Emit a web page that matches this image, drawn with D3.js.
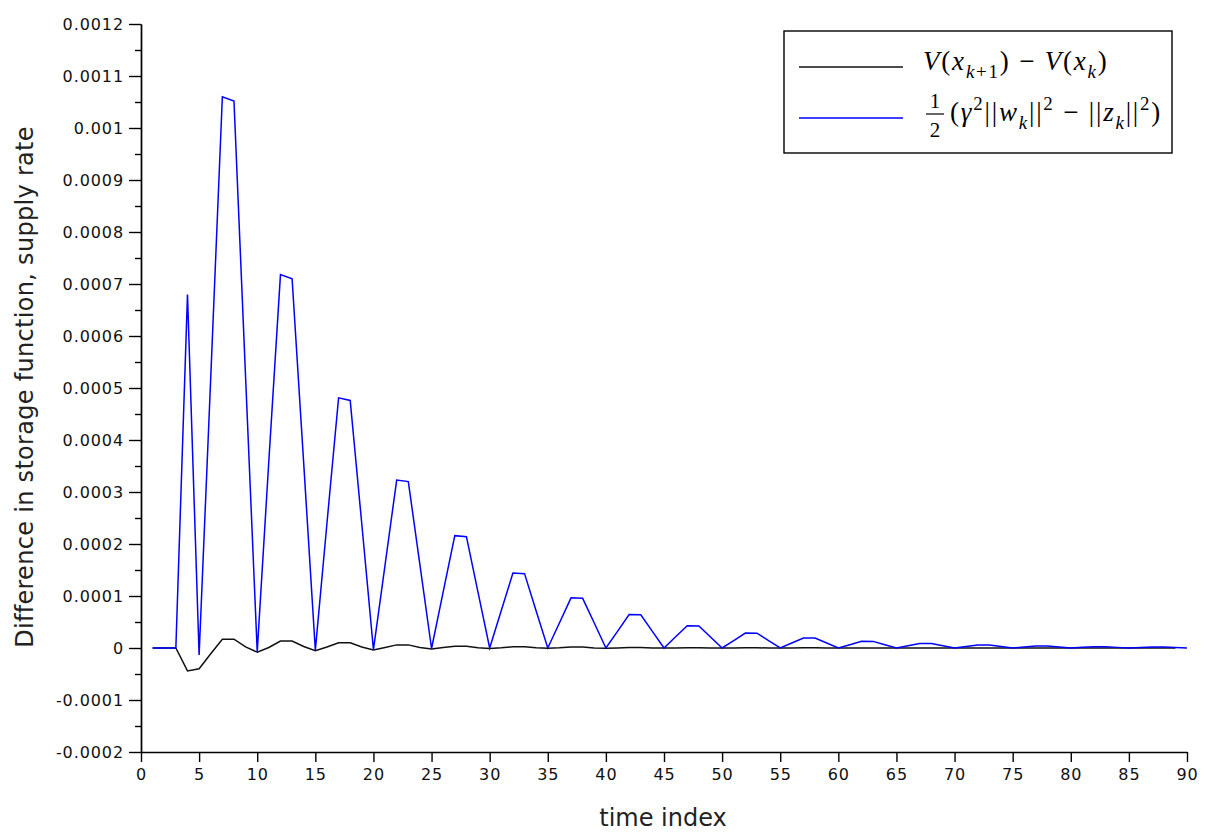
<!DOCTYPE html>
<html>
<head>
<meta charset="utf-8">
<script src="https://cdn.jsdelivr.net/npm/d3@7"></script>
<style>
  body { margin: 0; background: #fff; }
  text { white-space: pre; }
</style>
</head>
<body>
<script>
var width = 1216;
var height = 834;

var margin = {top: 24, left: 141, right: 29, bottom: 82};

// values, one per time index starting at 1
var supplyRate = [
  0, 0, 0, 0.00068, -0.0000135, 0.00052, 0.00106, 0.001052, 0.00052, -0.000007,
  0.00036, 0.000718, 0.00071, 0.000355, -0.000004, 0.00024, 0.000481, 0.000476, 0.000238, -0.000003,
  0.00016, 0.000323, 0.00032, 0.00016, -0.000001, 0.000108, 0.000216, 0.000214, 0.000107, 0,
  0.000072, 0.000144, 0.000143, 0.000071, 0, 0.000048, 0.0000965, 0.0000955, 0.000048, 0,
  0.000032, 0.0000645, 0.000064, 0.000032, 0, 0.0000215, 0.000043, 0.0000425, 0.000021, 0,
  0.0000144, 0.0000288, 0.0000285, 0.0000142, 0, 0.0000096, 0.0000193, 0.000019, 0.0000095, 0,
  0.0000064, 0.0000129, 0.0000127, 0.0000063, 0, 0.0000043, 0.0000086, 0.0000085, 0.0000042, 0,
  0.0000029, 0.0000058, 0.0000057, 0.0000028, 0, 0.0000019, 0.0000039, 0.0000038, 0.0000019, 0,
  0.0000013, 0.0000026, 0.0000025, 0.0000012, 0, 0.0000008, 0.0000017, 0.0000017, 0.0000008, 0
];

var storageDiff = [
  0, 0, 0, -0.000044, -0.00004, -0.000011, 0.000017, 0.000017, 0.000002, -0.000008,
  0.000001, 0.0000135, 0.0000135, 0.000003, -0.000005, 0.000002, 0.00001, 0.00001, 0.000002, -0.000004,
  0.000001, 0.000006, 0.000006, 0.000001, -0.000002, 0.000001, 0.0000035, 0.0000035, 0.0000005, -0.000001,
  0.0000005, 0.0000025, 0.0000025, 0.0000003, -0.0000005, 0.0000003, 0.0000017, 0.0000017, 0.0000002, -0.0000003,
  0.0000002, 0.0000011, 0.0000011, 0.0000001, -0.0000002, 0.0000001, 0.0000007, 0.0000007, 0.0000001, -0.0000001,
  0.0000001, 0.0000005, 0.0000005, 0, 0, 0, 0.0000003, 0.0000003, 0, 0,
  0, 0.0000002, 0.0000002, 0, 0, 0, 0.0000001, 0.0000001, 0, 0,
  0, 0, 0, 0, 0, 0, 0, 0, 0, 0,
  0, 0, 0, 0, 0, 0, 0, 0, 0
];

var xTicks = [0, 5, 10, 15, 20, 25, 30, 35, 40, 45, 50, 55, 60, 65, 70, 75, 80, 85, 90];
var yTicks = [-0.0002, -0.0001, 0, 0.0001, 0.0002, 0.0003, 0.0004, 0.0005, 0.0006,
              0.0007, 0.0008, 0.0009, 0.001, 0.0011, 0.0012];
var yMinorTicks = [-0.00015, -0.00005, 0.00005, 0.00015, 0.00025, 0.00035, 0.00045, 0.00055,
                   0.00065, 0.00075, 0.00085, 0.00095, 0.00105, 0.00115];

var svg = d3.select("body")
  .append("svg")
  .attr("width", width)
  .attr("height", height);

var xScale = d3.scaleLinear()
  .domain([0, 90])
  .range([margin.left, width - margin.right]);

var yScale = d3.scaleLinear()
  .domain([-0.0002, 0.0012])
  .range([height - margin.bottom, margin.top]);

var tickFont = "'DejaVu Sans', sans-serif";

// x axis
var xAxis = svg.append("g")
  .attr("transform", "translate(0," + (height - margin.bottom) + ")")
  .call(d3.axisBottom(xScale).tickValues(xTicks).tickSize(10).tickSizeOuter(0).tickPadding(7)
    .tickFormat(d3.format("d")));

// y axis, minor ticks first
svg.append("g")
  .attr("transform", "translate(" + margin.left + ",0)")
  .call(d3.axisLeft(yScale).tickValues(yMinorTicks).tickSize(6).tickSizeOuter(0).tickFormat(""));

var yAxis = svg.append("g")
  .attr("transform", "translate(" + margin.left + ",0)")
  .call(d3.axisLeft(yScale).tickValues(yTicks).tickSize(12).tickSizeOuter(0).tickPadding(5)
    .tickFormat(function(d) { return String(+d.toFixed(4)); }));

svg.selectAll(".domain, .tick line")
  .attr("stroke", "#000")
  .attr("stroke-width", 1.4);

svg.selectAll(".tick text")
  .attr("font-family", tickFont)
  .attr("font-size", 16)
  .attr("letter-spacing", "0.9px")
  .attr("fill", "#111");

// axis titles
svg.append("text")
  .attr("x", 663)
  .attr("y", 826)
  .attr("text-anchor", "middle")
  .attr("font-family", tickFont)
  .attr("font-size", 24)
  .attr("fill", "#222")
  .text("time index");

svg.append("text")
  .attr("transform", "translate(33,387) rotate(-90)")
  .attr("text-anchor", "middle")
  .attr("font-family", tickFont)
  .attr("font-size", 24)
  .attr("letter-spacing", "0.3px")
  .attr("fill", "#222")
  .text("Difference in storage function, supply rate");

// curves
var line = d3.line()
  .x(function(d, i) { return xScale(i + 1); })
  .y(function(d) { return yScale(d); });

svg.append("path")
  .datum(storageDiff)
  .attr("d", line)
  .attr("fill", "none")
  .attr("stroke", "#111")
  .attr("stroke-width", 1.5);

svg.append("path")
  .datum(supplyRate)
  .attr("d", line)
  .attr("fill", "none")
  .attr("stroke", "#0000ff")
  .attr("stroke-width", 1.5);

// legend
var legend = svg.append("g");

legend.append("rect")
  .attr("x", 784).attr("y", 31)
  .attr("width", 388).attr("height", 122)
  .attr("fill", "#fff")
  .attr("stroke", "#000")
  .attr("stroke-width", 1.4);

legend.append("line")
  .attr("x1", 799).attr("x2", 903).attr("y1", 67).attr("y2", 67)
  .attr("stroke", "#111").attr("stroke-width", 1.5);

legend.append("line")
  .attr("x1", 799).attr("x2", 903).attr("y1", 118).attr("y2", 118)
  .attr("stroke", "#0000ff").attr("stroke-width", 1.5);

var mathFont = "'Liberation Serif', 'DejaVu Serif', serif";

// parts: [text, italic, level] where level -1 = subscript, 1 = superscript
function mathText(g, x, y, size, parts) {
  var t = g.append("text")
    .attr("x", x).attr("y", y)
    .attr("font-family", mathFont)
    .attr("font-size", size)
    .attr("letter-spacing", "1.8px")
    .attr("fill", "#000");
  var cur = 0;
  parts.forEach(function(p) {
    var off = p[2] === -1 ? size * 0.28 : p[2] === 1 ? -size * 0.42 : 0;
    t.append("tspan")
      .attr("dy", off - cur)
      .attr("font-style", p[1] ? "italic" : "normal")
      .attr("font-size", p[2] ? size * 0.7 : size)
      .text(p[0]);
    cur = off;
  });
  return t;
}

mathText(legend, 923, 70, 27, [
  ["V", 1, 0], ["(", 0, 0], ["x", 1, 0], ["k", 1, -1], ["+1", 0, -1], [")", 0, 0],
  [" \u2212 ", 0, 0], ["V", 1, 0], ["(", 0, 0], ["x", 1, 0], ["k", 1, -1], [")", 0, 0]
]);

legend.append("text")
  .attr("x", 935).attr("y", 108)
  .attr("text-anchor", "middle")
  .attr("font-family", mathFont).attr("font-size", 21)
  .text("1");
legend.append("line")
  .attr("x1", 926).attr("x2", 944).attr("y1", 114).attr("y2", 114)
  .attr("stroke", "#000").attr("stroke-width", 1.2);
legend.append("text")
  .attr("x", 935).attr("y", 137)
  .attr("text-anchor", "middle")
  .attr("font-family", mathFont).attr("font-size", 21)
  .text("2");

mathText(legend, 950, 121, 27, [
  ["(", 0, 0], ["\u03b3", 1, 0], ["2", 0, 1], ["||", 0, 0], ["w", 1, 0], ["k", 1, -1],
  ["||", 0, 0], ["2", 0, 1], [" \u2212 ", 0, 0], ["||", 0, 0], ["z", 1, 0], ["k", 1, -1],
  ["||", 0, 0], ["2", 0, 1], [")", 0, 0]
]);
</script>
</body>
</html>
